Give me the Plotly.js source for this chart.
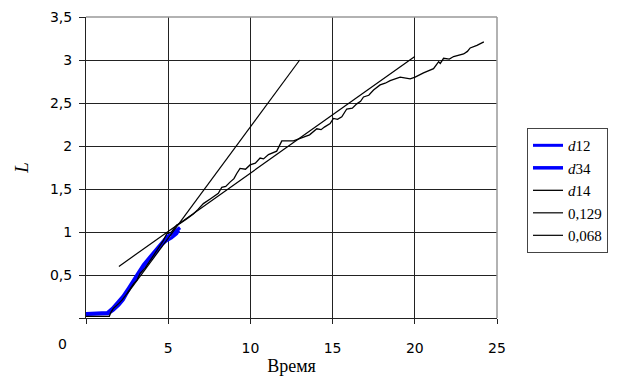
<!DOCTYPE html>
<html>
<head>
<meta charset="utf-8">
<script src="https://cdn.plot.ly/plotly-3.0.1.min.js"></script>
<style>html,body{margin:0;padding:0;background:#fff;}#chart{width:623px;height:384px;}</style>
</head>
<body>
<div id="chart"></div>
<script>
// Series data
const d12X = [0, 1.36, 1.66, 2.0, 2.27, 2.6, 2.88, 3.2, 3.49, 3.9, 4.3, 4.6, 4.91, 5.2, 5.52, 5.65];
const d12Y = [0.04, 0.05, 0.09, 0.15, 0.21, 0.32, 0.42, 0.50, 0.59, 0.68, 0.77, 0.85, 0.90, 0.93, 0.98, 1.02];
const d34X = [0, 1.3, 1.6, 1.95, 2.25, 2.6, 2.9, 3.2, 3.5, 3.9, 4.3, 4.6, 4.95, 5.25, 5.55, 5.72];
const d34Y = [0.05, 0.06, 0.11, 0.18, 0.25, 0.35, 0.45, 0.53, 0.62, 0.71, 0.80, 0.88, 0.95, 0.98, 1.02, 1.05];
const d14X = [0, 1.42, 1.5, 1.66, 2.0, 2.2, 2.48, 2.9, 3.1, 3.29, 3.6, 3.9, 4.2, 4.5, 4.7, 4.91, 5.2, 5.52, 5.72, 6.1, 6.53, 6.8, 7.14, 7.6, 8.05, 8.26, 8.5, 8.76, 9.0, 9.17, 9.37, 9.7, 9.98, 10.3, 10.59, 10.8, 11.1, 11.6, 11.75, 11.91, 12.62, 13.23, 13.6, 14.04, 14.3, 14.5, 14.85, 15.05, 15.3, 15.56, 15.86, 16.2, 16.47, 16.7, 16.88, 17.2, 17.49, 17.89, 18.2, 18.5, 19.11, 19.72, 20.02, 20.53, 20.8, 21.14, 21.45, 21.55, 21.75, 22.1, 22.36, 22.7, 22.97, 23.2, 23.37, 23.78, 23.98, 24.2];
const d14Y = [0.02, 0.02, 0.06, 0.11, 0.17, 0.21, 0.28, 0.40, 0.44, 0.52, 0.58, 0.67, 0.75, 0.85, 0.90, 0.98, 1.0, 1.08, 1.10, 1.15, 1.21, 1.26, 1.33, 1.39, 1.45, 1.52, 1.53, 1.58, 1.62, 1.68, 1.74, 1.73, 1.78, 1.80, 1.86, 1.85, 1.90, 1.94, 2.00, 2.06, 2.06, 2.10, 2.13, 2.20, 2.19, 2.22, 2.26, 2.32, 2.31, 2.34, 2.43, 2.44, 2.49, 2.52, 2.57, 2.59, 2.65, 2.71, 2.73, 2.76, 2.80, 2.78, 2.80, 2.85, 2.87, 2.90, 2.98, 2.96, 3.02, 3.01, 3.04, 3.06, 3.07, 3.10, 3.14, 3.17, 3.19, 3.21];
const fit129X = [2.5, 13];
const fit129Y = [0.28, 3.0];
const fit068X = [2, 20];
const fit068Y = [0.6, 3.04];

const xTickVals = [0, 5, 10, 15, 20, 25];
const xTickText = ['', '5', '10', '15', '20', '25'];
const yTickVals = [0, 0.5, 1, 1.5, 2, 2.5, 3, 3.5];
const yTickText = ['', '0,5', '1', '1,5', '2', '2,5', '3', '3,5'];

const serif = 'Liberation Serif, Times New Roman, serif';
const sans = 'DejaVu Sans, Arial, sans-serif';

const traces = [
  {x: d12X, y: d12Y, name: '<i>d</i>12', mode: 'lines', line: {color: '#0000FF', width: 3}},
  {x: d34X, y: d34Y, name: '<i>d</i>34', mode: 'lines', line: {color: '#0000FF', width: 3.5}},
  {x: d14X, y: d14Y, name: '<i>d</i>14', mode: 'lines', line: {color: '#000000', width: 1.3}},
  {x: fit129X, y: fit129Y, name: '0,129', mode: 'lines', line: {color: '#000000', width: 1.2}},
  {x: fit068X, y: fit068Y, name: '0,068', mode: 'lines', line: {color: '#000000', width: 1.2}}
];

const layout = {
  width: 623, height: 384,
  margin: {l: 86, r: 126, t: 17, b: 66},
  paper_bgcolor: '#fff', plot_bgcolor: '#fff',
  showlegend: true,
  legend: {x: 1.073, y: 0.631, xanchor: 'left', yanchor: 'top',
           bordercolor: '#444', borderwidth: 1, bgcolor: '#fff',
           font: {family: serif, size: 15, color: '#000'}, itemwidth: 30,
           entrywidth: 110, tracegroupgap: 0},
  xaxis: {range: [0, 25], tickvals: xTickVals, ticktext: xTickText,
          showgrid: true, gridcolor: '#222', gridwidth: 1,
          zeroline: false, showline: true, linecolor: '#222', linewidth: 1,
          ticks: 'outside', ticklen: 5, tickcolor: '#222', ticklabelstandoff: 12,
          tickfont: {family: sans, size: 14, color: '#000'},
          title: {text: 'Время', font: {family: serif, size: 18, color: '#000'}, standoff: 4},
          fixedrange: true},
  yaxis: {range: [0, 3.5], tickvals: yTickVals, ticktext: yTickText,
          showgrid: true, gridcolor: '#222', gridwidth: 1,
          zeroline: false, showline: true, linecolor: '#222', linewidth: 1,
          ticks: 'outside', ticklen: 6, tickcolor: '#222', ticklabelstandoff: 4,
          tickfont: {family: sans, size: 14, color: '#000'},
          title: {text: '<i>L</i>', font: {family: serif, size: 19, color: '#000'}, standoff: 16},
          fixedrange: true},
  shapes: [
    {type: 'line', xref: 'paper', yref: 'paper', x0: 0, x1: 1, y0: 1, y1: 1, line: {color: '#999', width: 1.5}},
    {type: 'line', xref: 'paper', yref: 'paper', x0: 1, x1: 1, y0: 0, y1: 1, line: {color: '#999', width: 1.5}}
  ],
  annotations: [
    {text: '0', xref: 'paper', yref: 'paper', x: -0.058, y: -0.088, xanchor: 'center', yanchor: 'middle',
     showarrow: false, font: {family: sans, size: 14, color: '#000'}}
  ]
};

Plotly.newPlot('chart', traces, layout, {displayModeBar: false, staticPlot: true});
</script>
</body>
</html>
